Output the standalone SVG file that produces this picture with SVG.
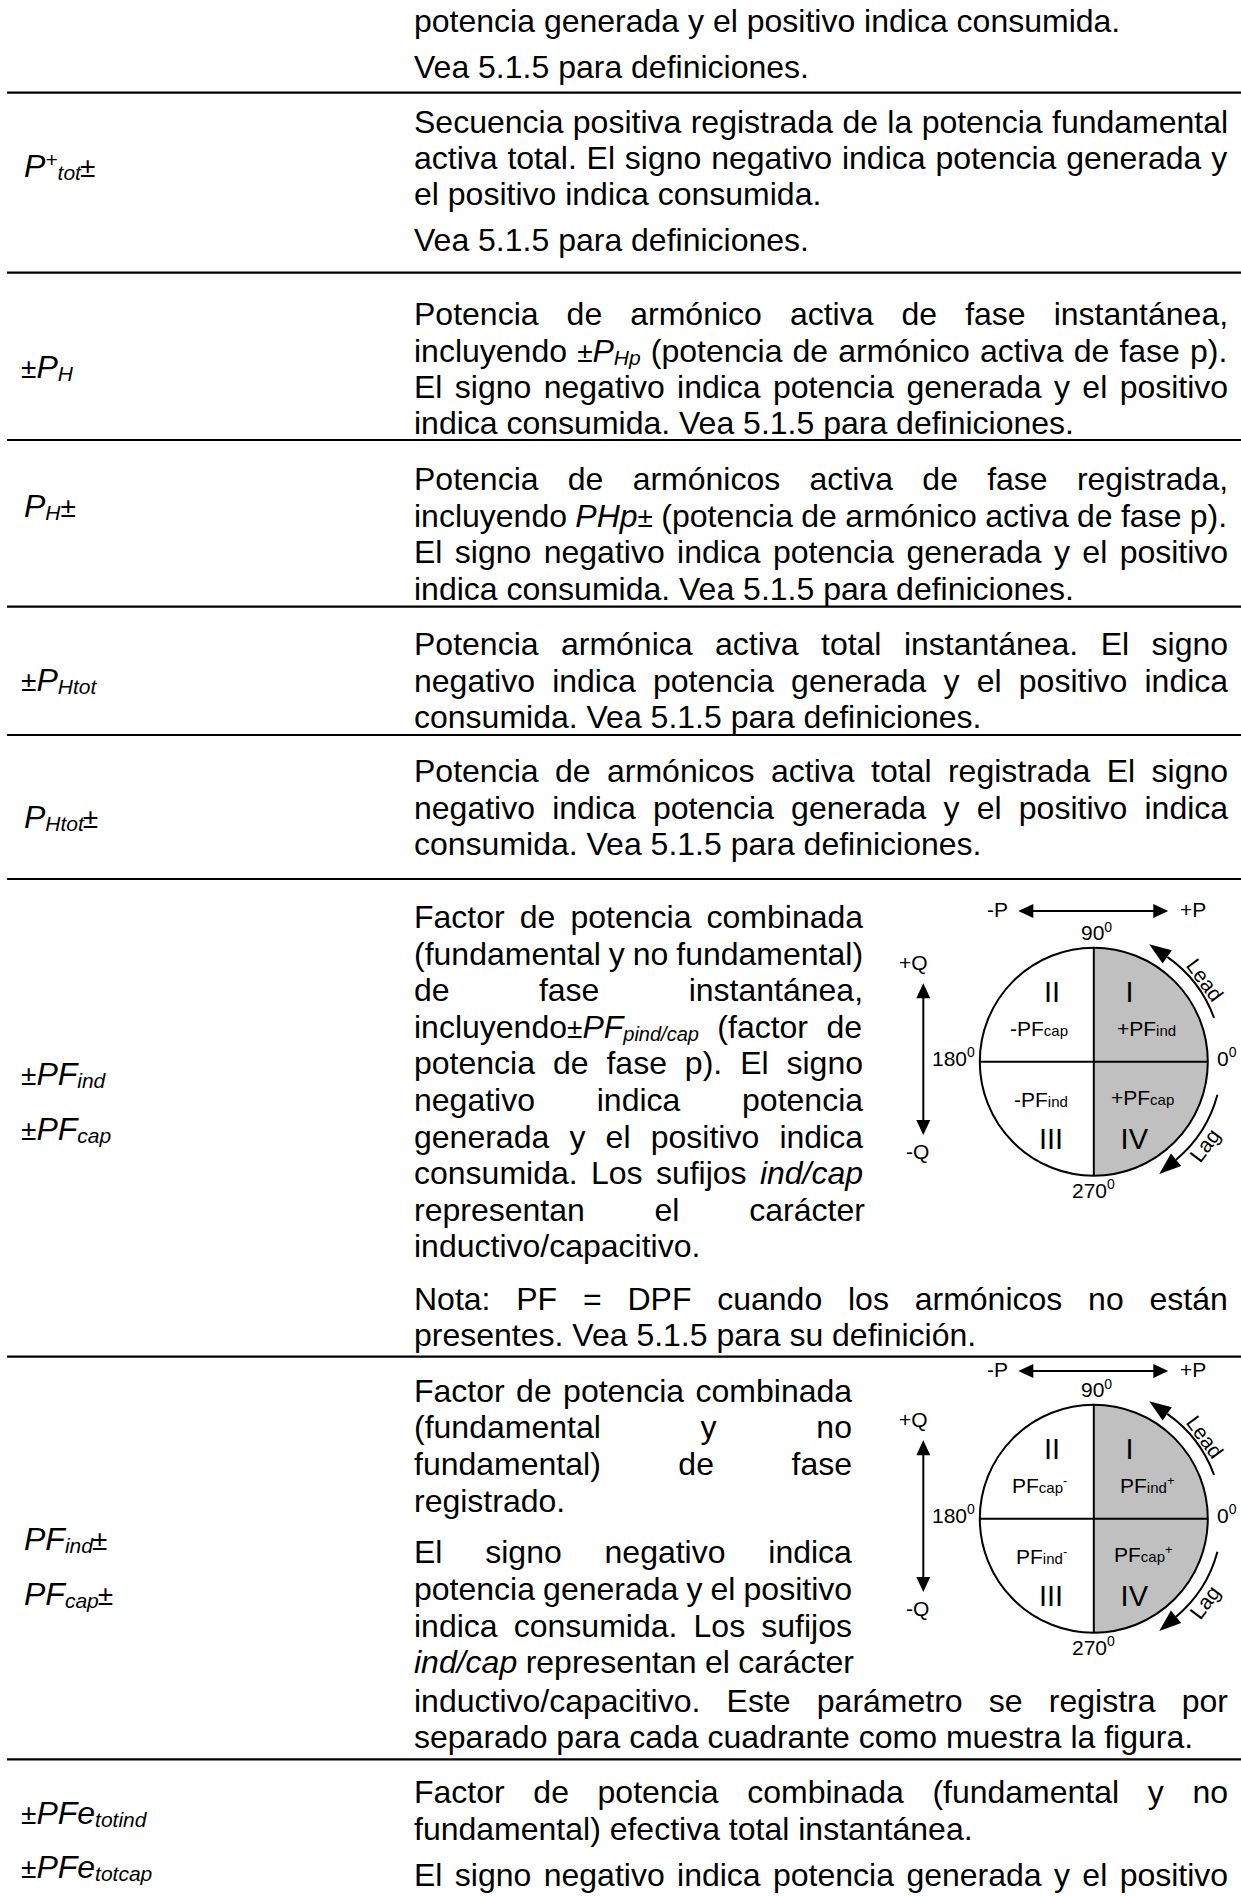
<svg xmlns="http://www.w3.org/2000/svg" width="1241" height="1896" viewBox="0 0 1241 1896">
<style>
.t{font-family:"Liberation Sans",Arial,Helvetica,sans-serif;font-size:32px;fill:#000}
.i{font-style:italic}
.s{font-size:21px}
.sp{font-size:20px}
.pm{font-size:28px;font-style:normal}
.d{font-family:"Liberation Sans",Arial,Helvetica,sans-serif;font-size:21px;fill:#000}
.ds{font-size:15px}
.dg{font-size:14px}
.dx{font-size:13px}
.rn{font-size:29px}
.rule{stroke:#000;stroke-width:2.2}
.ln{stroke:#000;stroke-width:2;fill:none}
.ah{fill:#000;stroke:none}
</style>
<rect width="1241" height="1896" fill="#fff"/>

<g id="rules">
<line class="rule" x1="7" y1="92.7" x2="1241" y2="92.7"/>
<line class="rule" x1="7" y1="272.7" x2="1241" y2="272.7"/>
<line class="rule" x1="7" y1="440" x2="1241" y2="440"/>
<line class="rule" x1="7" y1="606.7" x2="1241" y2="606.7"/>
<line class="rule" x1="7" y1="735" x2="1241" y2="735"/>
<line class="rule" x1="7" y1="879" x2="1241" y2="879"/>
<line class="rule" x1="7" y1="1356.7" x2="1241" y2="1356.7"/>
<line class="rule" x1="7" y1="1759.3" x2="1241" y2="1759.3"/>
</g>

<g id="row0">
<text class="t" x="414" y="31.7">potencia generada y el positivo indica consumida.</text>
<text class="t" x="414" y="77.5">Vea 5.1.5 para definiciones.</text>
</g>

<g id="row-ptot">
<text class="t i" x="24" y="177">P<tspan class="s" dy="-10.5">+</tspan><tspan class="s" dy="13.5">tot</tspan><tspan class="pm" dy="-3" dx="-1">±</tspan></text>
<text class="t" x="414" y="133" style="word-spacing:0.49px">Secuencia positiva registrada de la potencia fundamental</text>
<text class="t" x="414" y="169" style="word-spacing:0.92px">activa total. El signo negativo indica potencia generada y</text>
<text class="t" x="414" y="205">el positivo indica consumida.</text>
<text class="t" x="414" y="250.5">Vea 5.1.5 para definiciones.</text>
</g>

<g id="row-ph">
<text class="t i" x="21" y="377.5"><tspan class="pm">±</tspan>P<tspan class="s" dy="3">H</tspan></text>
<text class="t" x="414" y="325" style="word-spacing:19.16px">Potencia de armónico activa de fase instantánea,</text>
<text class="t" x="414" y="361.5" style="word-spacing:1.22px">incluyendo <tspan class="pm">±</tspan><tspan class="i">P</tspan><tspan class="i s" dy="3">Hp</tspan><tspan dy="-3"> (potencia de armónico activa de fase p).</tspan></text>
<text class="t" x="414" y="398" style="word-spacing:3.48px">El signo negativo indica potencia generada y el positivo</text>
<text class="t" x="414" y="433.5">indica consumida. Vea 5.1.5 para definiciones.</text>
</g>

<g id="row-ph-reg">
<text class="t i" x="24" y="517">P<tspan class="s" dy="3">H</tspan><tspan class="pm" dy="-3">±</tspan></text>
<text class="t" x="414" y="490" style="word-spacing:20.36px">Potencia de armónicos activa de fase registrada,</text>
<text class="t" x="414" y="526.5" style="word-spacing:-0.56px">incluyendo <tspan class="i">PHp</tspan><tspan class="pm">±</tspan> (potencia de armónico activa de fase p).</text>
<text class="t" x="414" y="563" style="word-spacing:3.48px">El signo negativo indica potencia generada y el positivo</text>
<text class="t" x="414" y="599.5">indica consumida. Vea 5.1.5 para definiciones.</text>
</g>

<g id="row-phtot">
<text class="t i" x="21" y="691"><tspan class="pm">±</tspan>P<tspan class="s" dy="3">Htot</tspan></text>
<text class="t" x="414" y="655" style="word-spacing:13.53px">Potencia armónica activa total instantánea. El signo</text>
<text class="t" x="414" y="691.5" style="word-spacing:8.29px">negativo indica potencia generada y el positivo indica</text>
<text class="t" x="414" y="728">consumida. Vea 5.1.5 para definiciones.</text>
</g>

<g id="row-phtot-reg">
<text class="t i" x="24" y="828">P<tspan class="s" dy="3">Htot</tspan><tspan class="pm" dy="-3" dx="-1">±</tspan></text>
<text class="t" x="414" y="782" style="word-spacing:7.54px">Potencia de armónicos activa total registrada El signo</text>
<text class="t" x="414" y="818.5" style="word-spacing:8.29px">negativo indica potencia generada y el positivo indica</text>
<text class="t" x="414" y="855">consumida. Vea 5.1.5 para definiciones.</text>
</g>

<g id="row-pf">
<text class="t i" x="21" y="1085"><tspan class="pm">±</tspan>PF<tspan class="s" dy="3">ind</tspan></text>
<text class="t i" x="21" y="1140"><tspan class="pm">±</tspan>PF<tspan class="s" dy="3">cap</tspan></text>
<text class="t" x="414" y="928" style="word-spacing:6.2px">Factor de potencia combinada</text>
<text class="t" x="414" y="964.6" style="word-spacing:-0.93px">(fundamental y no fundamental)</text>
<text class="t" x="414" y="1001.2" style="word-spacing:80.4px">de fase instantánea,</text>
<text class="t" x="414" y="1037.8" style="word-spacing:9.55px">incluyendo<tspan class="pm">±</tspan><tspan class="i">PF</tspan><tspan class="i sp" dy="3">pind/cap</tspan><tspan dy="-3"> (factor de</tspan></text>
<text class="t" x="414" y="1074.4" style="word-spacing:9.04px">potencia de fase p). El signo</text>
<text class="t" x="414" y="1111" style="word-spacing:52.85px">negativo indica potencia</text>
<text class="t" x="414" y="1147.6" style="word-spacing:11.3px">generada y el positivo indica</text>
<text class="t" x="414" y="1184.2" style="word-spacing:4.43px">consumida. Los sufijos <tspan class="i">ind/cap</tspan></text>
<text class="t" x="414" y="1220.8" style="word-spacing:60.9px">representan el carácter</text>
<text class="t" x="414" y="1257.4">inductivo/capacitivo.</text>
<text class="t" x="414" y="1309.6" style="word-spacing:16.9px">Nota: PF = DPF cuando los armónicos no están</text>
<text class="t" x="414" y="1346.2">presentes. Vea 5.1.5 para su definición.</text>
</g>

<g id="quad1">
<path d="M1093.8,947.7 A114,114 0 0 1 1093.8,1175.7 Z" fill="#c0c0c0"/>
<circle class="ln" cx="1093.8" cy="1061.7" r="114"/>
<line class="ln" x1="1093.8" y1="947.7" x2="1093.8" y2="1175.7"/>
<line class="ln" x1="979.8" y1="1061.7" x2="1207.8" y2="1061.7"/>
<line class="ln" x1="1028" y1="911" x2="1158" y2="911"/>
<polygon class="ah" points="1018.3,911 1033.3,904 1033.3,918"/>
<polygon class="ah" points="1168.3,911 1153.3,904 1153.3,918"/>
<line class="ln" x1="923.3" y1="994" x2="923.3" y2="1124"/>
<polygon class="ah" points="923.3,983.3 916.3,998.3 930.3,998.3"/>
<polygon class="ah" points="923.3,1135 916.3,1120 930.3,1120"/>
<path class="ln" d="M1214.08,1017.92 A128,128 0 0 0 1167.22,956.85"/>
<polygon class="ah" points="1149.2,944.23 1162.63,963.4 1171.81,950.3"/>
<path class="ln" d="M1217.44,1094.83 A128,128 0 0 1 1176.08,1159.75"/>
<polygon class="ah" points="1159.23,1173.89 1181.22,1165.88 1170.94,1153.62"/>
<text class="d" x="987" y="917.3">-P</text>
<text class="d" x="1180" y="917.3">+P</text>
<text class="d" x="1081" y="940">90<tspan class="dg" dy="-8">0</tspan></text>
<text class="d" x="899" y="970">+Q</text>
<text class="d" x="906" y="1159.3">-Q</text>
<text class="d" x="932" y="1065.7">180<tspan class="dg" dy="-9">0</tspan></text>
<text class="d" x="1217" y="1065.7">0<tspan class="dg" dy="-9">0</tspan></text>
<text class="d" x="1072" y="1198.3">270<tspan class="dg" dy="-9">0</tspan></text>
<text class="d rn" x="1044" y="1001.7">II</text>
<text class="d rn" x="1125.6" y="1001.7">I</text>
<text class="d rn" x="1039" y="1149.3">III</text>
<text class="d rn" x="1120.6" y="1149.3">IV</text>
<text class="d" x="1010" y="1036">-PF<tspan class="ds">cap</tspan></text>
<text class="d" x="1117" y="1036">+PF<tspan class="ds">ind</tspan></text>
<text class="d" x="1014" y="1106.5">-PF<tspan class="ds">ind</tspan></text>
<text class="d" x="1111" y="1104.5">+PF<tspan class="ds">cap</tspan></text>
<g transform="translate(1205,980) rotate(53.7)"><text class="d" x="0" y="7.5" text-anchor="middle">Lead</text></g>
<g transform="translate(1206.7,1146.7) rotate(-53)"><text class="d" x="0" y="5" text-anchor="middle">Lag</text></g>
</g>

<g id="row-pf-reg">
<text class="t i" x="24" y="1550">PF<tspan class="s" dy="3">ind</tspan><tspan class="pm" dy="-3" dx="-1">±</tspan></text>
<text class="t i" x="24" y="1605">PF<tspan class="s" dy="3">cap</tspan><tspan class="pm" dy="-3" dx="-1">±</tspan></text>
<text class="t" x="414" y="1401.7" style="word-spacing:2.53px">Factor de potencia combinada</text>
<text class="t" x="414" y="1438.3" style="word-spacing:90.9px">(fundamental y no</text>
<text class="t" x="414" y="1475" style="word-spacing:68.7px">fundamental) de fase</text>
<text class="t" x="414" y="1511.6">registrado.</text>
<text class="t" x="414" y="1563.3" style="word-spacing:33.9px">El signo negativo indica</text>
<text class="t" x="414" y="1600" style="word-spacing:-0.78px">potencia generada y el positivo</text>
<text class="t" x="414" y="1636.6" style="word-spacing:7.27px">indica consumida. Los sufijos</text>
<text class="t" x="414" y="1673.2" style="word-spacing:-0.43px"><tspan class="i">ind/cap</tspan> representan el carácter</text>
<text class="t" x="414" y="1711.7" style="word-spacing:17.3px">inductivo/capacitivo. Este parámetro se registra por</text>
<text class="t" x="414" y="1748.3">separado para cada cuadrante como muestra la figura.</text>
</g>

<g id="quad2" transform="translate(0,457)">
<path d="M1093.8,947.7 A114,114 0 0 1 1093.8,1175.7 Z" fill="#c0c0c0"/>
<circle class="ln" cx="1093.8" cy="1061.7" r="114"/>
<line class="ln" x1="1093.8" y1="947.7" x2="1093.8" y2="1175.7"/>
<line class="ln" x1="979.8" y1="1061.7" x2="1207.8" y2="1061.7"/>
<line class="ln" x1="1028" y1="914" x2="1158" y2="914"/>
<polygon class="ah" points="1018.3,914 1033.3,907 1033.3,921"/>
<polygon class="ah" points="1168.3,914 1153.3,907 1153.3,921"/>
<line class="ln" x1="923.3" y1="994" x2="923.3" y2="1124"/>
<polygon class="ah" points="923.3,983.3 916.3,998.3 930.3,998.3"/>
<polygon class="ah" points="923.3,1135 916.3,1120 930.3,1120"/>
<path class="ln" d="M1214.08,1017.92 A128,128 0 0 0 1167.22,956.85"/>
<polygon class="ah" points="1149.2,944.23 1162.63,963.4 1171.81,950.3"/>
<path class="ln" d="M1217.44,1094.83 A128,128 0 0 1 1176.08,1159.75"/>
<polygon class="ah" points="1159.23,1173.89 1181.22,1165.88 1170.94,1153.62"/>
<text class="d" x="987" y="920.3">-P</text>
<text class="d" x="1180" y="920.3">+P</text>
<text class="d" x="1081" y="940">90<tspan class="dg" dy="-8">0</tspan></text>
<text class="d" x="899" y="970">+Q</text>
<text class="d" x="906" y="1159.3">-Q</text>
<text class="d" x="932" y="1065.7">180<tspan class="dg" dy="-9">0</tspan></text>
<text class="d" x="1217" y="1065.7">0<tspan class="dg" dy="-9">0</tspan></text>
<text class="d" x="1072" y="1198.3">270<tspan class="dg" dy="-9">0</tspan></text>
<text class="d rn" x="1044" y="1001.7">II</text>
<text class="d rn" x="1125.6" y="1001.7">I</text>
<text class="d rn" x="1039" y="1149.3">III</text>
<text class="d rn" x="1120.6" y="1149.3">IV</text>
<text class="d" x="1012" y="1036">PF<tspan class="ds">cap</tspan><tspan class="dx" dy="-8">-</tspan></text>
<text class="d" x="1120" y="1036">PF<tspan class="ds">ind</tspan><tspan class="dx" dy="-8">+</tspan></text>
<text class="d" x="1016" y="1106.5">PF<tspan class="ds">ind</tspan><tspan class="dx" dy="-8">-</tspan></text>
<text class="d" x="1114" y="1104.5">PF<tspan class="ds">cap</tspan><tspan class="dx" dy="-8">+</tspan></text>
<g transform="translate(1205,980) rotate(53.7)"><text class="d" x="0" y="7.5" text-anchor="middle">Lead</text></g>
<g transform="translate(1206.7,1146.7) rotate(-53)"><text class="d" x="0" y="5" text-anchor="middle">Lag</text></g>
</g>

<g id="row-pfe">
<text class="t i" x="21" y="1824"><tspan class="pm">±</tspan>PFe<tspan class="s" dy="3">totind</tspan></text>
<text class="t i" x="21" y="1878"><tspan class="pm">±</tspan>PFe<tspan class="s" dy="3">totcap</tspan></text>
<text class="t" x="414" y="1803.3" style="word-spacing:19.75px">Factor de potencia combinada (fundamental y no</text>
<text class="t" x="414" y="1839.9">fundamental) efectiva total instantánea.</text>
<text class="t" x="414" y="1886" style="word-spacing:3.48px">El signo negativo indica potencia generada y el positivo</text>
</g>
</svg>
